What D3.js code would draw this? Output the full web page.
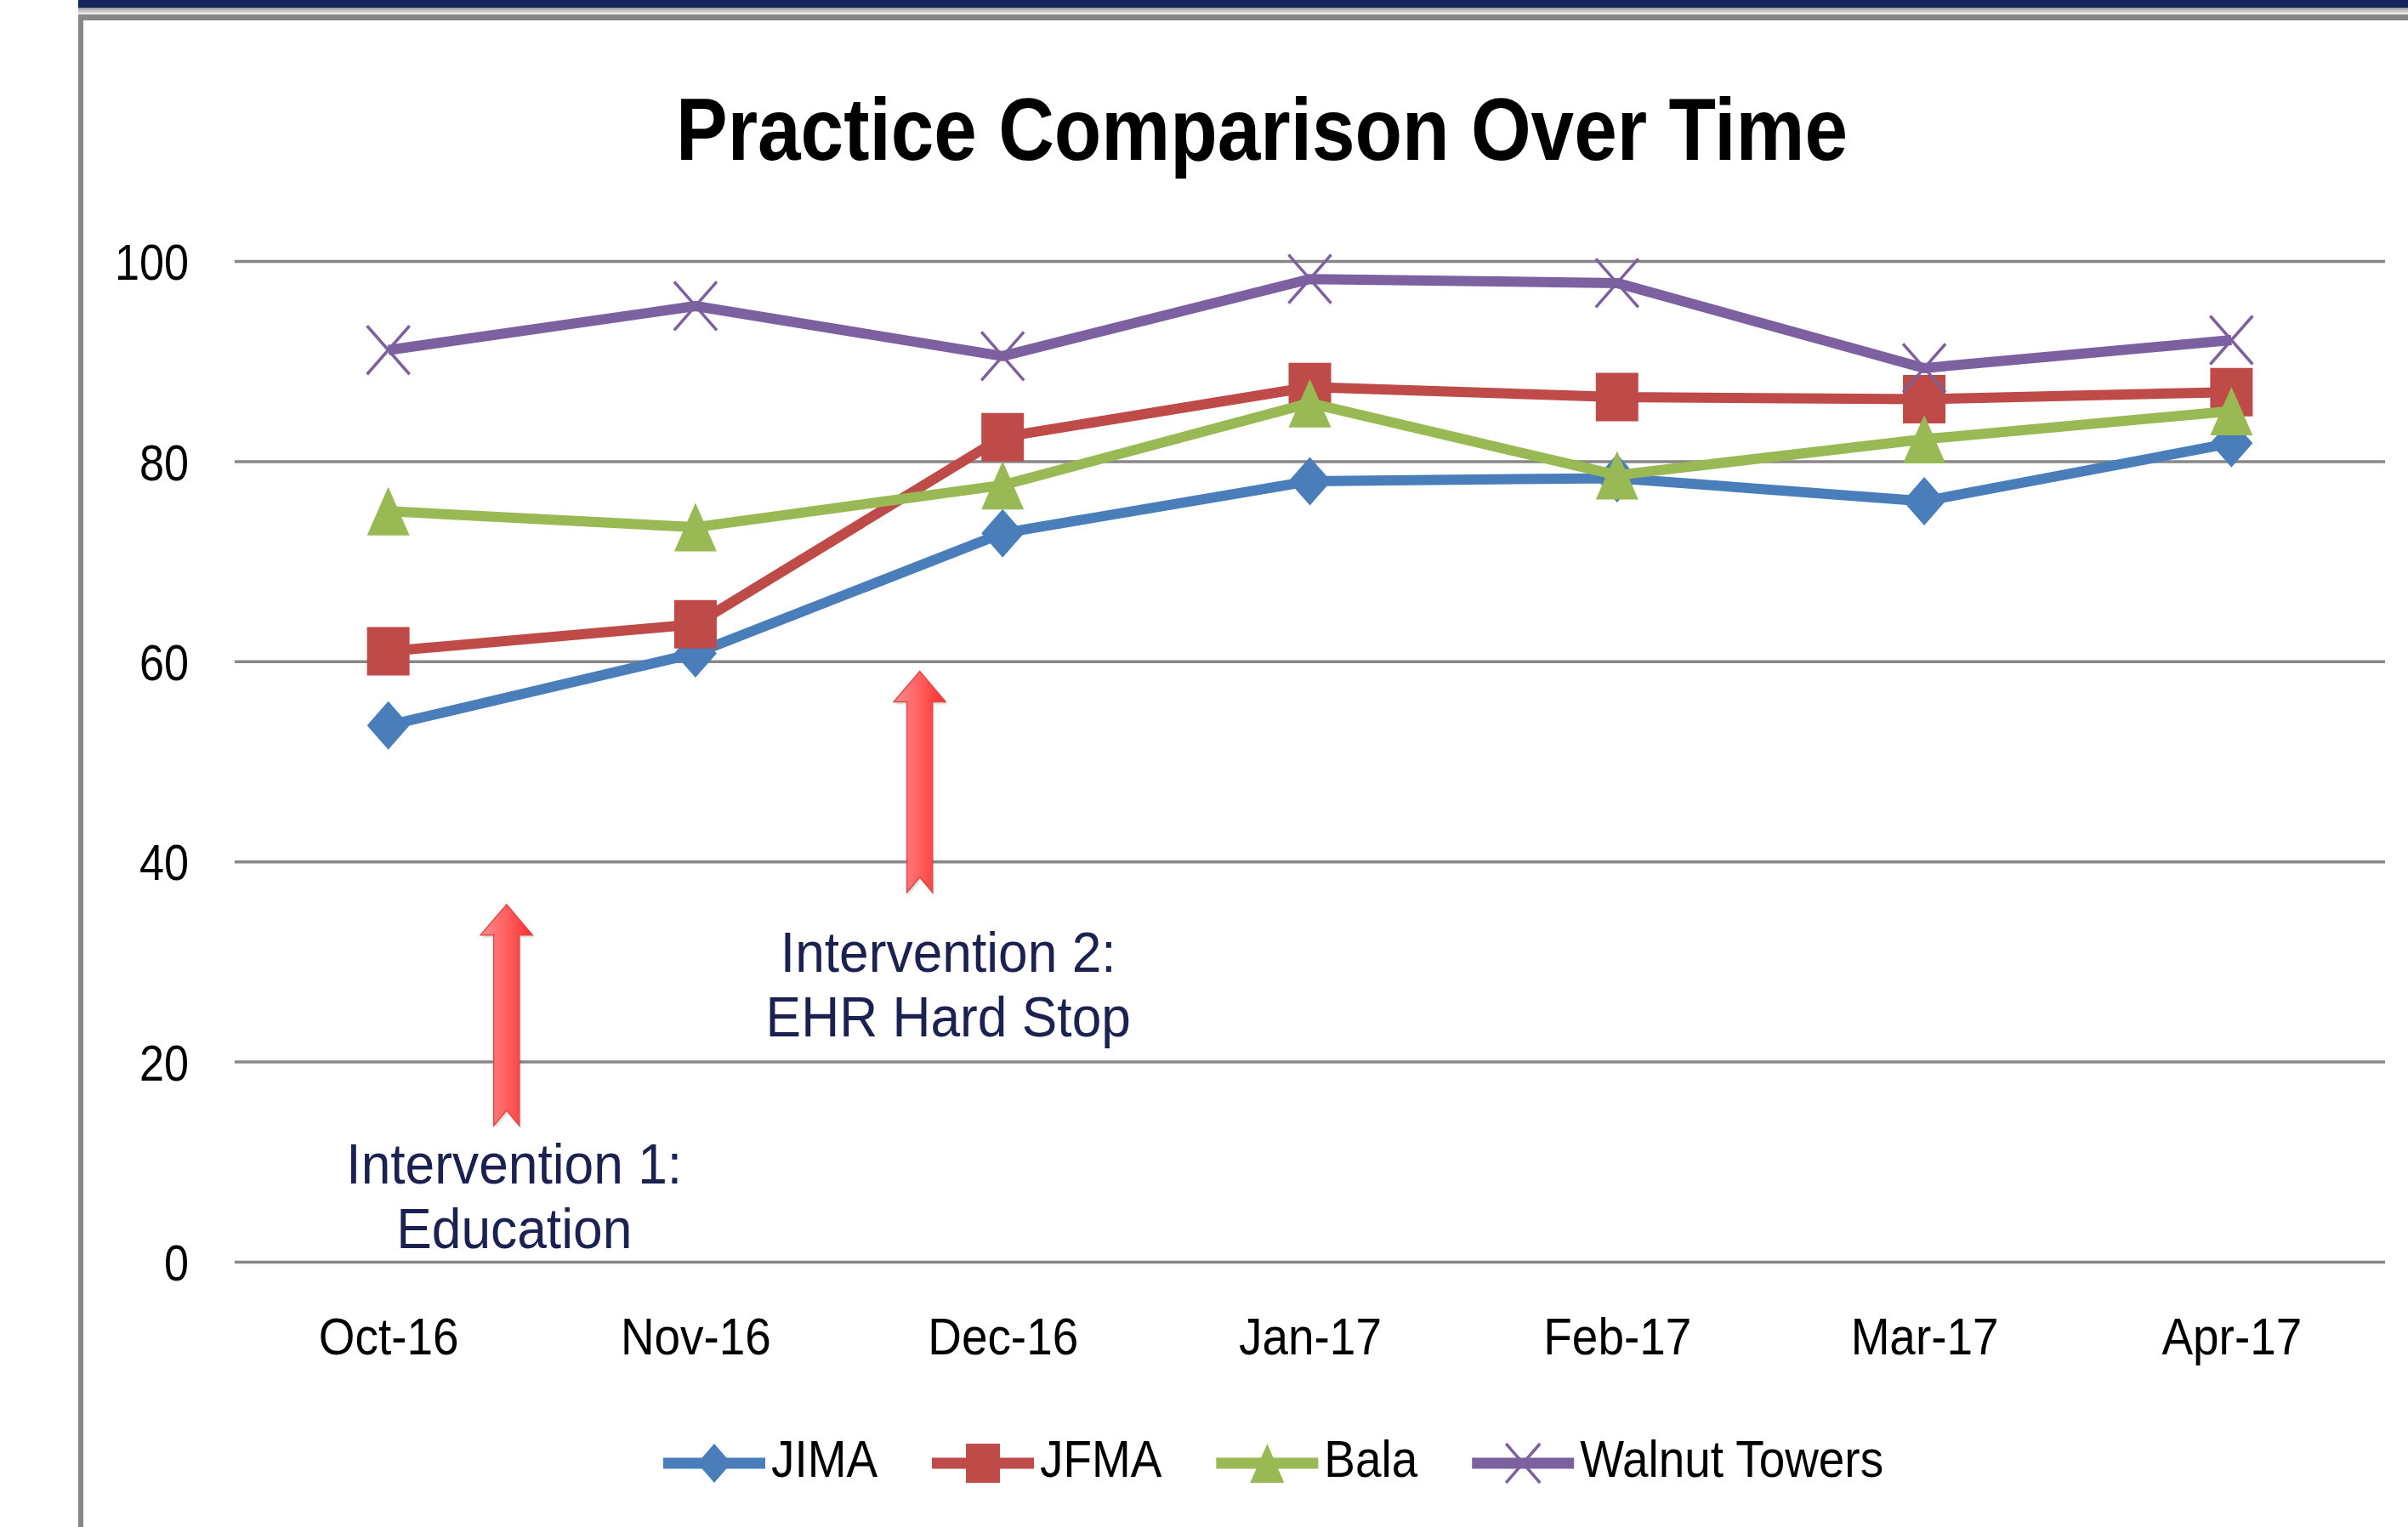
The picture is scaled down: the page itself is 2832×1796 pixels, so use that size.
<!DOCTYPE html>
<html lang="en">
<head>
  <meta charset="utf-8">
  <title>Practice Comparison Over Time</title>
  <style>
    html, body { margin: 0; padding: 0; background: #fff; }
    svg { display: block; }
  </style>
</head>
<body>

  <svg class="canvas" width="2832" height="1796"></svg>

  <script src="https://d3js.org/d3.v7.min.js"></script>
  <script>

// ---- data ----
const months = ["Oct-16", "Nov-16", "Dec-16", "Jan-17", "Feb-17", "Mar-17", "Apr-17"];
const yTicks = [0, 20, 40, 60, 80, 100];

const jima   = [53.6, 60.8, 72.8, 78.0, 78.3, 76.0, 81.8];
const jfma   = [61.0, 63.7, 82.4, 87.4, 86.4, 86.2, 86.9];
const bala   = [75.0, 73.4, 77.6, 85.8, 78.6, 82.2, 85.0];
const walnut = [91.1, 95.5, 90.5, 98.2, 97.8, 89.3, 92.1];

const seriesNames = ["JIMA", "JFMA", "Bala", "Walnut Towers"];

// arrows: at = month index (fractional), tip / tail in y units
const notes = [
  {lines: ["Intervention 1:", "Education"],     at: 0.385, tip: 35.7, tail: 13.6, textAt: 0.41,  label: 7.8},
  {lines: ["Intervention 2:", "EHR Hard Stop"], at: 1.73,  tip: 59.0, tail: 36.9, textAt: 1.823, label: 29.0}
];


// ---- setup ----
const svg = d3.select(".canvas");
const W = 2832, H = 1796;
const plot = {left: 276, right: 2805, top: 307, bottom: 1484};

const x = d3.scalePoint().domain(months).range([plot.left, plot.right]).padding(0.5);
const xi = i => x(months[0]) + i * x.step();
const y = d3.scaleLinear().domain([0, 100]).range([plot.bottom, plot.top]);

const series = [
  {name: seriesNames[0], values: jima,   color: "#4a7ebb", marker: "diamond"},
  {name: seriesNames[1], values: jfma,   color: "#be4b48", marker: "square"},
  {name: seriesNames[2], values: bala,   color: "#98b954", marker: "triangle"},
  {name: seriesNames[3], values: walnut, color: "#7d60a0", marker: "cross"}
];

const FONT = "'Liberation Sans', Arial, sans-serif";
const SX = 0.87;   // the original is squeezed horizontally

function markerPath(type, w, h) {
  const a = w / 2, b = h / 2;
  if (type == "diamond")  return `M0,${-b}L${a},0L0,${b}L${-a},0Z`;
  if (type == "square")   return `M${-a},${-b}H${a}V${b}H${-a}Z`;
  if (type == "triangle") return `M0,${-b}L${a},${b}L${-a},${b}Z`;
  return `M${-a},${-b}L${a},${b}M${a},${-b}L${-a},${b}`;
}

function drawMarker(g, s, w, h) {
  const p = g.append("path").attr("d", markerPath(s.marker, w, h));
  if (s.marker == "cross") {
    p.attr("fill", "none").attr("stroke", s.color).attr("stroke-width", 3.5);
  } else {
    p.attr("fill", s.color);
  }
}

// ---- frame decoration (slide border) ----
const defs = svg.append("defs");
const shade = defs.append("linearGradient").attr("id", "shade")
  .attr("x1", 0).attr("y1", 0).attr("x2", 0).attr("y2", 1);
shade.append("stop").attr("offset", "0%").attr("stop-color", "#9a9a9a");
shade.append("stop").attr("offset", "100%").attr("stop-color", "#f4f4f4");

svg.append("rect").attr("x", 92).attr("y", 0).attr("width", W - 92).attr("height", 9).attr("fill", "#15245a");
svg.append("rect").attr("x", 92).attr("y", 9).attr("width", W - 92).attr("height", 8).attr("fill", "url(#shade)");
svg.append("rect").attr("x", 92).attr("y", 17).attr("width", W - 92).attr("height", 7).attr("fill", "#878787");
svg.append("rect").attr("x", 92).attr("y", 17).attr("width", 6).attr("height", H - 17).attr("fill", "#878787");

// ---- title ----
svg.append("text")
  .attr("x", (795 + 2173) / 2).attr("y", 188)
  .attr("text-anchor", "middle")
  .attr("font-family", FONT).attr("font-weight", "bold").attr("font-size", 103)
  .attr("textLength", 1378).attr("lengthAdjust", "spacingAndGlyphs")
  .attr("fill", "#000")
  .text("Practice Comparison Over Time");

// ---- grid + y labels ----
const yAxis = svg.append("g")
  .attr("transform", `translate(${plot.left},0)`)
  .call(d3.axisLeft(y).tickValues(yTicks).tickSize(-(plot.right - plot.left)).tickPadding(54));
yAxis.select(".domain").remove();
yAxis.selectAll(".tick line").attr("stroke", "#878787").attr("stroke-width", 3.5);
yAxis.selectAll(".tick text")
  .attr("font-family", FONT).attr("font-size", 60).attr("fill", "#000")
  .attr("dy", "0.36em")
  .attr("x", -54 / SX)
  .attr("transform", `scale(${SX},1)`);

// ---- x labels ----
const xAxis = svg.append("g")
  .attr("transform", `translate(0,${plot.bottom})`)
  .call(d3.axisBottom(x).tickSize(0).tickPadding(66));
xAxis.select(".domain").remove();
xAxis.selectAll(".tick text")
  .attr("font-family", FONT).attr("font-size", 61).attr("fill", "#000")
  .attr("transform", "scale(0.9,1)");

// ---- arrows + notes ----
const grad = defs.append("linearGradient").attr("id", "arrowFill")
  .attr("x1", 0).attr("y1", 0).attr("x2", 1).attr("y2", 0);
grad.append("stop").attr("offset", "0%").attr("stop-color", "#ff8e8e");
grad.append("stop").attr("offset", "50%").attr("stop-color", "#ff5f5f");
grad.append("stop").attr("offset", "100%").attr("stop-color", "#ff2d2d");

const arrowG = svg.append("g");
notes.forEach(n => {
  const cx = xi(n.at), t = y(n.tip), b = y(n.tail);
  const hw = 30.5, sw = 15, hh = 36, notch = 18;
  const d = `M${cx},${t}L${cx + hw},${t + hh}L${cx + sw},${t + hh}L${cx + sw},${b}` +
            `L${cx},${b - notch}L${cx - sw},${b}L${cx - sw},${t + hh}L${cx - hw},${t + hh}Z`;
  arrowG.append("path").attr("d", d)
    .attr("transform", "translate(2,3)")
    .attr("fill", "#000").attr("opacity", 0.12);
  arrowG.append("path").attr("d", d)
    .attr("fill", "url(#arrowFill)")
    .attr("stroke", "#e04848").attr("stroke-width", 1.5);

  const tx = xi(n.textAt), ty = y(n.label);
  n.lines.forEach((line, k) => {
    arrowG.append("text")
      .attr("x", tx / 0.93).attr("y", ty + k * 76)
      .attr("transform", "scale(0.93,1)")
      .attr("text-anchor", "middle")
      .attr("font-family", FONT).attr("font-size", 67)
      .attr("fill", "#1b2150")
      .text(line);
  });
});

// ---- series ----
const line = d3.line()
  .x((d, i) => x(months[i]))
  .y(d => y(d));

series.forEach(s => {
  const g = svg.append("g");
  g.append("path").datum(s.values)
    .attr("d", line)
    .attr("fill", "none")
    .attr("stroke", s.color)
    .attr("stroke-width", 12)
    .attr("stroke-linejoin", "round");
  g.selectAll("g.pt").data(s.values).enter().append("g")
    .attr("class", "pt")
    .attr("transform", (d, i) => `translate(${x(months[i])},${y(d)})`)
    .each(function() { drawMarker(d3.select(this), s, 50, 57); });
});

// ---- legend ----
const legend = svg.append("g").attr("transform", "translate(780,1737)");
let lx = 0;
series.forEach(s => {
  const item = legend.append("g").attr("transform", `translate(${lx},0)`);
  item.append("line")
    .attr("x1", 0).attr("x2", 120).attr("y1", -16).attr("y2", -16)
    .attr("stroke", s.color).attr("stroke-width", 13);
  const m = item.append("g").attr("transform", "translate(60,-16)");
  drawMarker(m, s, 40, 46);
  const t = item.append("text")
    .attr("x", 127 / 0.9).attr("y", 0)
    .attr("transform", "scale(0.9,1)")
    .attr("font-family", FONT).attr("font-size", 61).attr("fill", "#000")
    .text(s.name);
  lx += 127 + t.node().getComputedTextLength() * 0.9 + 64;
});

  </script>
</body>
</html>
